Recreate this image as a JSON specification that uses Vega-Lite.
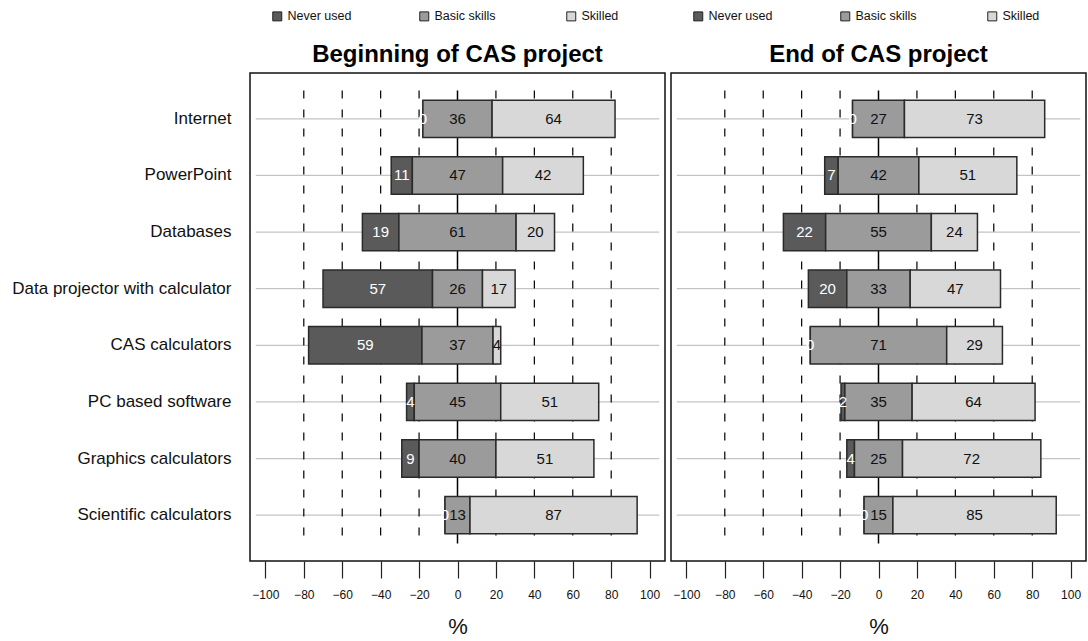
{
  "$schema": "https://vega.github.io/schema/vega-lite/v6.json",
  "background": "white",
  "padding": {"left": 11, "top": 9, "right": 2, "bottom": 2},
  "datasets": {
    "skills": [
      {"period": "Beginning", "item": "Internet", "level": "Never used", "value": 0},
      {"period": "Beginning", "item": "Internet", "level": "Basic skills", "value": 36},
      {"period": "Beginning", "item": "Internet", "level": "Skilled", "value": 64},
      {"period": "Beginning", "item": "PowerPoint", "level": "Never used", "value": 11},
      {"period": "Beginning", "item": "PowerPoint", "level": "Basic skills", "value": 47},
      {"period": "Beginning", "item": "PowerPoint", "level": "Skilled", "value": 42},
      {"period": "Beginning", "item": "Databases", "level": "Never used", "value": 19},
      {"period": "Beginning", "item": "Databases", "level": "Basic skills", "value": 61},
      {"period": "Beginning", "item": "Databases", "level": "Skilled", "value": 20},
      {"period": "Beginning", "item": "Data projector with calculator", "level": "Never used", "value": 57},
      {"period": "Beginning", "item": "Data projector with calculator", "level": "Basic skills", "value": 26},
      {"period": "Beginning", "item": "Data projector with calculator", "level": "Skilled", "value": 17},
      {"period": "Beginning", "item": "CAS calculators", "level": "Never used", "value": 59},
      {"period": "Beginning", "item": "CAS calculators", "level": "Basic skills", "value": 37},
      {"period": "Beginning", "item": "CAS calculators", "level": "Skilled", "value": 4},
      {"period": "Beginning", "item": "PC based software", "level": "Never used", "value": 4},
      {"period": "Beginning", "item": "PC based software", "level": "Basic skills", "value": 45},
      {"period": "Beginning", "item": "PC based software", "level": "Skilled", "value": 51},
      {"period": "Beginning", "item": "Graphics calculators", "level": "Never used", "value": 9},
      {"period": "Beginning", "item": "Graphics calculators", "level": "Basic skills", "value": 40},
      {"period": "Beginning", "item": "Graphics calculators", "level": "Skilled", "value": 51},
      {"period": "Beginning", "item": "Scientific calculators", "level": "Never used", "value": 0},
      {"period": "Beginning", "item": "Scientific calculators", "level": "Basic skills", "value": 13},
      {"period": "Beginning", "item": "Scientific calculators", "level": "Skilled", "value": 87},
      {"period": "End", "item": "Internet", "level": "Never used", "value": 0},
      {"period": "End", "item": "Internet", "level": "Basic skills", "value": 27},
      {"period": "End", "item": "Internet", "level": "Skilled", "value": 73},
      {"period": "End", "item": "PowerPoint", "level": "Never used", "value": 7},
      {"period": "End", "item": "PowerPoint", "level": "Basic skills", "value": 42},
      {"period": "End", "item": "PowerPoint", "level": "Skilled", "value": 51},
      {"period": "End", "item": "Databases", "level": "Never used", "value": 22},
      {"period": "End", "item": "Databases", "level": "Basic skills", "value": 55},
      {"period": "End", "item": "Databases", "level": "Skilled", "value": 24},
      {"period": "End", "item": "Data projector with calculator", "level": "Never used", "value": 20},
      {"period": "End", "item": "Data projector with calculator", "level": "Basic skills", "value": 33},
      {"period": "End", "item": "Data projector with calculator", "level": "Skilled", "value": 47},
      {"period": "End", "item": "CAS calculators", "level": "Never used", "value": 0},
      {"period": "End", "item": "CAS calculators", "level": "Basic skills", "value": 71},
      {"period": "End", "item": "CAS calculators", "level": "Skilled", "value": 29},
      {"period": "End", "item": "PC based software", "level": "Never used", "value": 2},
      {"period": "End", "item": "PC based software", "level": "Basic skills", "value": 35},
      {"period": "End", "item": "PC based software", "level": "Skilled", "value": 64},
      {"period": "End", "item": "Graphics calculators", "level": "Never used", "value": 4},
      {"period": "End", "item": "Graphics calculators", "level": "Basic skills", "value": 25},
      {"period": "End", "item": "Graphics calculators", "level": "Skilled", "value": 72},
      {"period": "End", "item": "Scientific calculators", "level": "Never used", "value": 0},
      {"period": "End", "item": "Scientific calculators", "level": "Basic skills", "value": 15},
      {"period": "End", "item": "Scientific calculators", "level": "Skilled", "value": 85}
    ],
    "refs": [
      {"v": -80}, {"v": -60}, {"v": -40}, {"v": -20},
      {"v": 20}, {"v": 40}, {"v": 60}, {"v": 80}
    ]
  },
  "config": {
    "font": "Liberation Sans",
    "view": {"stroke": "#111", "strokeWidth": 1.5},
    "axis": {"labelColor": "#111", "titleColor": "#111", "tickColor": "#222"},
    "title": {"color": "#000"}
  },
  "spacing": 4,
  "resolve": {"scale": {"color": "independent"}, "legend": {"color": "independent"}},
  "hconcat": [
    {
      "width": 415,
      "height": 488,
      "title": {"text": "Beginning of CAS project", "fontSize": 24, "fontWeight": "bold", "offset": 8, "dy": 65},
      "layer": [
        {
          "data": {"name": "skills"},
          "transform": [{"filter": "datum.period === 'Beginning' && datum.level === 'Basic skills'"}],
          "mark": {"type": "rule", "color": "#c4c4c4", "strokeWidth": 1.3},
          "encoding": {
            "y": {"field": "item", "type": "nominal", "sort": null,
              "scale": {"domain": ["Internet", "PowerPoint", "Databases", "Data projector with calculator", "CAS calculators", "PC based software", "Graphics calculators", "Scientific calculators"], "paddingInner": 0.34, "paddingOuter": 0.48},
              "axis": {"title": null, "ticks": false, "domain": false, "labelFontSize": 17, "labelPadding": 19, "labelLimit": 400}},
            "x": {"datum": -105, "type": "quantitative", "scale": {"domain": [-108, 108], "nice": false, "zero": false},
              "axis": {"values": [-100, -80, -60, -40, -20, 0, 20, 40, 60, 80, 100], "grid": false, "domain": false, "tickSize": 17, "tickWidth": 1.2, "labelFontSize": 12, "labelPadding": 11, "title": "%", "titleFontSize": 22, "titleFontWeight": "normal", "titlePadding": 16}},
            "x2": {"datum": 105}
          }
        },
        {
          "data": {"name": "refs"},
          "mark": {"type": "rule", "color": "#000", "strokeWidth": 1.2, "strokeDash": [8, 11]},
          "encoding": {
            "x": {"field": "v", "type": "quantitative"},
            "y": {"datum": "Internet", "type": "nominal", "bandPosition": -0.2576},
            "y2": {"datum": "Scientific calculators", "bandPosition": 1.2576}
          }
        },
        {
          "data": {"values": [{"v": 0}]},
          "mark": {"type": "rule", "color": "#000", "strokeWidth": 1.5},
          "encoding": {
            "x": {"field": "v", "type": "quantitative"},
            "y": {"datum": "Internet", "type": "nominal", "bandPosition": -0.2576},
            "y2": {"datum": "Scientific calculators", "bandPosition": 1.2576}
          }
        },
        {
          "data": {"name": "skills"},
          "transform": [
            {"filter": "datum.period === 'Beginning'"},
            {"calculate": "datum.level === 'Never used' ? 0 : datum.level === 'Basic skills' ? 1 : 2", "as": "ord"},
            {"calculate": "datum.level === 'Never used' ? datum.value : datum.level === 'Basic skills' ? datum.value / 2 : 0", "as": "negpart"},
            {"joinaggregate": [{"op": "sum", "field": "negpart", "as": "offset"}], "groupby": ["item"]},
            {"window": [{"op": "sum", "field": "value", "as": "cum"}], "groupby": ["item"], "sort": [{"field": "ord"}], "frame": [null, 0]},
            {"calculate": "datum.cum - datum.value - datum.offset", "as": "x0"},
            {"calculate": "datum.cum - datum.offset", "as": "x1"},
            {"calculate": "(datum.x0 + datum.x1) / 2", "as": "xm"}
          ],
          "layer": [
            {
              "mark": {"type": "bar", "stroke": "#2a2a2a", "strokeWidth": 1.5},
              "encoding": {
                "y": {"field": "item", "type": "nominal"},
                "x": {"field": "x0", "type": "quantitative"},
                "x2": {"field": "x1"},
                "color": {"field": "level", "type": "nominal",
                  "scale": {"domain": ["Never used", "Basic skills", "Skilled"], "range": ["#5a5a5a", "#9b9b9b", "#d8d8d8"]},
                  "legend": {"orient": "none", "legendX": 21, "legendY": -63, "direction": "horizontal", "columns": 3, "gridAlign": "all", "columnPadding": 65, "title": null, "symbolType": "square", "symbolSize": 81, "symbolStrokeColor": "#222", "symbolStrokeWidth": 1, "labelFontSize": 12.5, "labelOffset": 4, "labelColor": "#111"}}
              }
            },
            {
              "mark": {"type": "text", "fontSize": 15, "baseline": "middle", "align": "center"},
              "encoding": {
                "y": {"field": "item", "type": "nominal"},
                "x": {"field": "xm", "type": "quantitative"},
                "text": {"field": "value", "type": "quantitative"},
                "color": {"condition": {"test": "datum.level === 'Never used'", "value": "#ffffff"}, "value": "#111111"}
              }
            }
          ]
        }
      ]
    },
    {
      "width": 415,
      "height": 488,
      "title": {"text": "End of CAS project", "fontSize": 24, "fontWeight": "bold", "offset": 8, "dy": 65},
      "layer": [
        {
          "data": {"name": "skills"},
          "transform": [{"filter": "datum.period === 'End' && datum.level === 'Basic skills'"}],
          "mark": {"type": "rule", "color": "#c4c4c4", "strokeWidth": 1.3},
          "encoding": {
            "y": {"field": "item", "type": "nominal", "sort": null,
              "scale": {"domain": ["Internet", "PowerPoint", "Databases", "Data projector with calculator", "CAS calculators", "PC based software", "Graphics calculators", "Scientific calculators"], "paddingInner": 0.34, "paddingOuter": 0.48},
              "axis": null},
            "x": {"datum": -105, "type": "quantitative", "scale": {"domain": [-108, 108], "nice": false, "zero": false},
              "axis": {"values": [-100, -80, -60, -40, -20, 0, 20, 40, 60, 80, 100], "grid": false, "domain": false, "tickSize": 17, "tickWidth": 1.2, "labelFontSize": 12, "labelPadding": 11, "title": "%", "titleFontSize": 22, "titleFontWeight": "normal", "titlePadding": 16}},
            "x2": {"datum": 105}
          }
        },
        {
          "data": {"name": "refs"},
          "mark": {"type": "rule", "color": "#000", "strokeWidth": 1.2, "strokeDash": [8, 11]},
          "encoding": {
            "x": {"field": "v", "type": "quantitative"},
            "y": {"datum": "Internet", "type": "nominal", "bandPosition": -0.2576},
            "y2": {"datum": "Scientific calculators", "bandPosition": 1.2576}
          }
        },
        {
          "data": {"values": [{"v": 0}]},
          "mark": {"type": "rule", "color": "#000", "strokeWidth": 1.5},
          "encoding": {
            "x": {"field": "v", "type": "quantitative"},
            "y": {"datum": "Internet", "type": "nominal", "bandPosition": -0.2576},
            "y2": {"datum": "Scientific calculators", "bandPosition": 1.2576}
          }
        },
        {
          "data": {"name": "skills"},
          "transform": [
            {"filter": "datum.period === 'End'"},
            {"calculate": "datum.level === 'Never used' ? 0 : datum.level === 'Basic skills' ? 1 : 2", "as": "ord"},
            {"calculate": "datum.level === 'Never used' ? datum.value : datum.level === 'Basic skills' ? datum.value / 2 : 0", "as": "negpart"},
            {"joinaggregate": [{"op": "sum", "field": "negpart", "as": "offset"}], "groupby": ["item"]},
            {"window": [{"op": "sum", "field": "value", "as": "cum"}], "groupby": ["item"], "sort": [{"field": "ord"}], "frame": [null, 0]},
            {"calculate": "datum.cum - datum.value - datum.offset", "as": "x0"},
            {"calculate": "datum.cum - datum.offset", "as": "x1"},
            {"calculate": "(datum.x0 + datum.x1) / 2", "as": "xm"}
          ],
          "layer": [
            {
              "mark": {"type": "bar", "stroke": "#2a2a2a", "strokeWidth": 1.5},
              "encoding": {
                "y": {"field": "item", "type": "nominal"},
                "x": {"field": "x0", "type": "quantitative"},
                "x2": {"field": "x1"},
                "color": {"field": "level", "type": "nominal",
                  "scale": {"domain": ["Never used", "Basic skills", "Skilled"], "range": ["#5a5a5a", "#9b9b9b", "#d8d8d8"]},
                  "legend": {"orient": "none", "legendX": 21, "legendY": -63, "direction": "horizontal", "columns": 3, "gridAlign": "all", "columnPadding": 65, "title": null, "symbolType": "square", "symbolSize": 81, "symbolStrokeColor": "#222", "symbolStrokeWidth": 1, "labelFontSize": 12.5, "labelOffset": 4, "labelColor": "#111"}}
              }
            },
            {
              "mark": {"type": "text", "fontSize": 15, "baseline": "middle", "align": "center"},
              "encoding": {
                "y": {"field": "item", "type": "nominal"},
                "x": {"field": "xm", "type": "quantitative"},
                "text": {"field": "value", "type": "quantitative"},
                "color": {"condition": {"test": "datum.level === 'Never used'", "value": "#ffffff"}, "value": "#111111"}
              }
            }
          ]
        }
      ]
    }
  ]
}
